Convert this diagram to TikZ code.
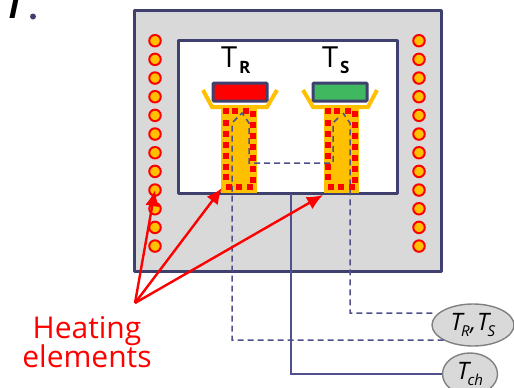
\documentclass[tikz,border=0pt]{standalone}
\usepackage{fontspec}
\setmainfont{Open Sans}
\usetikzlibrary{arrows.meta,shapes.geometric}
\definecolor{frame}{RGB}{64,64,110}
\definecolor{dash}{RGB}{80,80,140}
\definecolor{gold}{RGB}{255,192,0}
\definecolor{grn}{RGB}{64,184,96}
\definecolor{pane}{RGB}{217,217,217}
\newcommand{\titlelab}[2]{\fontsize{29}{29}\selectfont #1\kern2pt\raisebox{-6.5pt}{\fontsize{17}{17}\selectfont\bfseries #2}}
\newcommand{\readlab}[1]{\fontsize{24}{24}\selectfont\itshape T\kern-1.5pt\raisebox{-5.5pt}{\fontsize{15}{15}\selectfont #1}}
\tikzset{
  x=1pt,y=-1pt,
  wall/.style={draw=frame,line width=3pt,line join=round},
  heat/.style={circle,draw=red,fill=gold,line width=2pt,minimum size=11.5pt,inner sep=0pt},
  sq/.style={fill=red,minimum size=5.8pt,inner sep=0pt},
  cup/.style={draw=gold,line width=4pt},
  stem/.style={fill=gold},
  sensor/.style={draw=frame,line width=3pt,rounded corners=1pt},
  wire/.style={draw=dash,line width=1.5pt,dash pattern=on 6pt off 4pt},
  solidwire/.style={draw=dash,line width=1.5pt},
  pointer/.style={draw=red,line width=2.4pt,-{Latex[length=16pt,width=14pt]}},
  readout/.style={ellipse,draw=gray,fill=pane,line width=1.4pt,inner sep=0pt,text=black},
}
\begin{document}
\begin{tikzpicture}
\useasboundingbox (0,0) rectangle (514,388);
\begin{scope}
\clip (0,0) rectangle (514,388);
% enclosure
\draw[wall,fill=pane] (134,10) rectangle (441,271);
\draw[wall,fill=white] (178,40) rectangle (397,193.5);
% side heaters
\foreach \i in {0,...,11}{
  \node[heat] (hl\i) at (155,40.7+18.67*\i) {};
  \node[heat] (hr\i) at (419,40.7+18.67*\i) {};
}
% stems and cups
\fill[stem] (221,107) rectangle (257,193);
\fill[stem] (324,107) rectangle (359,193);
\draw[cup] (203,90) -- (212,107) -- (267,107) -- (277,90);
\draw[cup] (303,90) -- (313,107) -- (368,107) -- (377,90);
% sensors
\draw[sensor,fill=red] (213,83) rectangle (267,101);
\draw[sensor,fill=grn] (313,83) rectangle (367,101);
% wires (named ends)
\node[readout,minimum width=82pt,minimum height=42pt] (ts) at (473,325)
  {\readlab{R}\kern0.5pt,\kern1pt\readlab{S}};
\node[readout,minimum width=55pt,minimum height=42pt] (tc) at (470,374)
  {\raisebox{4pt}{\readlab{ch}}};
\coordinate (w1) at (350,313);
\coordinate (w2) at (232,340);
\coordinate (w3) at (291,374);
\coordinate (w3t) at (291,194);
\draw[wire] (ts.west |- w1) ++(1,0) -- (w1) -- (350,123) -- (343,113);
\draw[wire] (ts.south west |- w2) -- (w2) -- (232,123) -- (242,113) -- (249,123) -- (249,163) -- (333,163) -- (333,123) -- (339,117);
\draw[solidwire] (w3t) -- (w3) -- (tc.west);
% red squares
\foreach \dx in {0,101.7}{
  \foreach \x/\y in {226/111,235/111,246/111,
     253/114,253/125,253/136,253/147,253/158,253/169,253/180,
     229/187,239/187,250/187,
     226/123,226/134,226/145,226/156,226/167,226/177}{
    \node[sq] at (\x+\dx,\y) {};
  }
}
% titles
\node[inner sep=0pt,anchor=base west] (tr) at (221,67) {\titlelab{T}{R}};
\node[inner sep=0pt,anchor=base west] (tsl) at (322,67) {\titlelab{T}{S}};
% label and pointers
\node[inner sep=0pt,text=red,align=center,font=\fontsize{30}{30}\selectfont] (he) at (87,342) {Heating\\[-1pt]elements};
\coordinate (o) at (135,303);
\coordinate (p2) at (222,188);
\coordinate (p3) at (323,195);
\draw[pointer] (o) -- (hl8.center);
\draw[pointer] (o) -- (p2);
\draw[pointer] (o) -- (p3);
% stray label at top
\node[anchor=base west,inner sep=0pt,font=\fontsize{34}{34}\selectfont\itshape\bfseries] (t0) at (5,18) {T};
\fill[frame] (33,16.5) circle (3pt);
\end{scope}
\end{tikzpicture}
\end{document}
